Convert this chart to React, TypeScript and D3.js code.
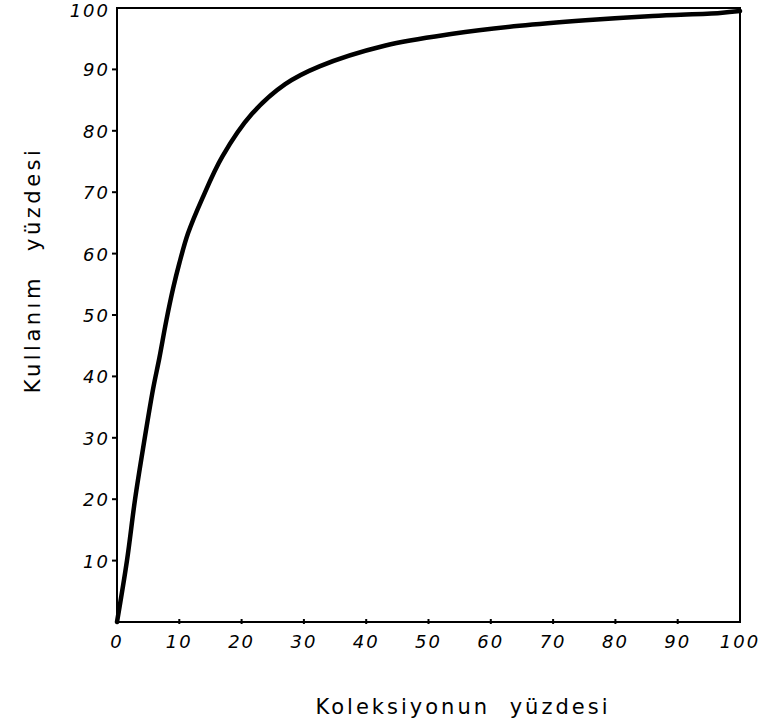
import React from "react";
import * as d3 from "d3";

const collectionPct = [0, 1.6, 2.9, 4.3, 5.8, 6.8, 7.9, 9.0, 10.0, 11.4, 13.7, 16.9, 21.7, 27, 32.5, 43.1, 53.9, 64.6, 75.2, 86, 96.8, 100];
const usagePct = [0, 10, 20, 29, 38, 43, 49, 54.3, 58.4, 63.3, 69.0, 75.8, 82.8, 87.6, 90.5, 93.9, 95.8, 97.1, 98.0, 98.7, 99.2, 99.5];
const xTicks = [0, 10, 20, 30, 40, 50, 60, 70, 80, 90, 100];
const yTicks = [10, 20, 30, 40, 50, 60, 70, 80, 90, 100];
const xTitle = "Koleksiyonun yüzdesi";
const yTitle = "Kullanım yüzdesi";

const W = 762;
const H = 728;
const FONT = "'DejaVu Sans', 'Liberation Sans', sans-serif";

export default function App() {
  const x = d3.scaleLinear().domain([0, 100]).range([117, 740]);
  const y = d3.scaleLinear().domain([0, 100]).range([622, 8]);
  const pts = collectionPct.map((c, i) => [c, usagePct[i]] as [number, number]);
  const line = d3
    .line<[number, number]>()
    .x((d) => x(d[0]))
    .y((d) => y(d[1]))
    .curve(d3.curveCatmullRom.alpha(0.5));

  return (
    <svg
      width={W}
      height={H}
      style={{ position: "absolute", left: 0, top: 0, background: "#fff" }}
    >
      {/* frame */}
      <rect
        x={x(0)}
        y={y(100)}
        width={x(100) - x(0)}
        height={y(0) - y(100)}
        fill="none"
        stroke="#000"
        strokeWidth={2}
      />
      {/* x ticks */}
      {xTicks.map((t) => (
        <g key={"xt" + t}>
          {t > 0 && t < 100 && (
            <line x1={x(t)} x2={x(t)} y1={y(0) - 3} y2={y(0) + 2} stroke="#000" strokeWidth={2} />
          )}
          <text
            x={x(t)}
            y={648}
            textAnchor="middle"
            fontFamily={FONT}
            fontSize={18}
            fontStyle="italic"
            letterSpacing={2}
            fill="#000"
          >
            {t}
          </text>
        </g>
      ))}
      {/* y ticks */}
      {yTicks.map((t) => (
        <g key={"yt" + t}>
          {t < 100 && (
            <line x1={x(0) - 5} x2={x(0) + 1} y1={y(t)} y2={y(t)} stroke="#000" strokeWidth={2} />
          )}
          <text
            x={110}
            y={t === 100 ? y(t) + 9 : y(t) + 7}
            textAnchor="end"
            fontFamily={FONT}
            fontSize={18}
            fontStyle="italic"
            letterSpacing={2}
            fill="#000"
          >
            {t}
          </text>
        </g>
      ))}
      {/* curve */}
      <path
        d={line(pts) || ""}
        fill="none"
        stroke="#000"
        strokeWidth={4.5}
        strokeLinecap="round"
        strokeLinejoin="round"
      />
      {/* titles */}
      <text
        x={463}
        y={714}
        textAnchor="middle"
        fontFamily={FONT}
        fontSize={21}
        letterSpacing={3}
        wordSpacing={10}
        fill="#000"
      >
        {xTitle}
      </text>
      <text
        transform={`translate(40, 270) rotate(-90)`}
        textAnchor="middle"
        fontFamily={FONT}
        fontSize={21}
        letterSpacing={3.5}
        wordSpacing={14}
        fill="#000"
      >
        {yTitle}
      </text>
    </svg>
  );
}
